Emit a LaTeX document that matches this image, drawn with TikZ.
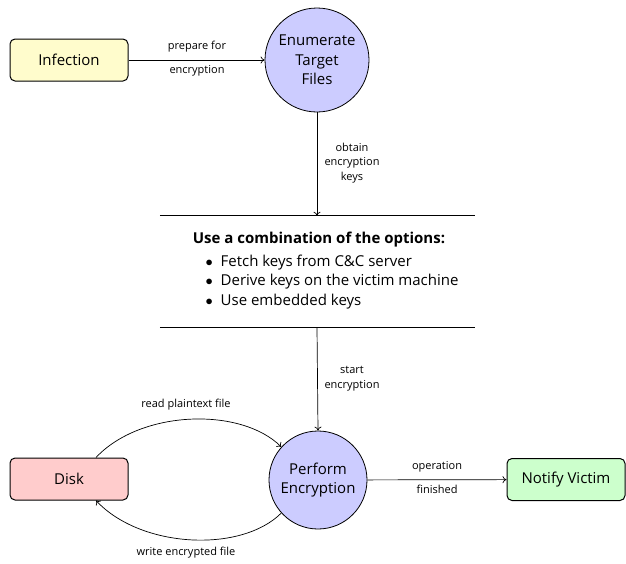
\documentclass[tikz,border=0pt]{standalone}
\usepackage{fontspec}
\setmainfont{Open Sans}
\usetikzlibrary{arrows.meta}
\begin{document}
\begin{tikzpicture}[x=1pt,y=-1pt,
  box/.style={draw, line width=1pt, rounded corners=5pt, minimum width=118pt, minimum height=42pt, font=\fontsize{15}{17}\selectfont},
  circ/.style={draw, circle, line width=0.8pt, fill=blue!20, align=center, inner sep=0pt, font=\fontsize{15}{19.5}\selectfont},
  conn/.style={-{To[length=4pt,width=7pt]}, line width=0.7pt},
  lbl/.style={font=\fontsize{11}{14.5}\selectfont, align=center, inner sep=1pt},
  rulel/.style={line width=1.3pt},
  txt/.style={font=\fontsize{15}{19.5}\selectfont, inner sep=0pt}
]
\useasboundingbox (0,0) rectangle (626,563);
\node[box, fill=yellow!20] (inf) at (69,60) {Infection};
\node[circ, minimum size=104pt] (enum) at (317,60) {Enumerate\\Target\\Files};
\node[minimum width=315pt, minimum height=111pt, inner sep=0pt] (opts) at (317.5,271.5) {};
\draw[rulel] (opts.north west) -- (opts.north east);
\draw[rulel] (opts.south west) -- (opts.south east);
\node[txt, font=\fontsize{15}{17}\bfseries] (head) at (319,240) {Use a combination of the options:};
\node[txt, anchor=west, align=left] (lst) at (205.5,282) {$\bullet$\ \ Fetch keys from C\&C server\\$\bullet$\ \ Derive keys on the victim machine\\$\bullet$\ \ Use embedded keys};
\node[circ, minimum size=98pt] (perf) at (318,480) {Perform\\Encryption};
\node[box, fill=red!20] (disk) at (69,479) {Disk};
\node[box, fill=green!20] (notif) at (566,479.5) {Notify Victim};
% connectors
\draw[conn] (inf) -- (enum);
\node[lbl] (l1) at (197,47) {prepare for};
\node[lbl] (l2) at (197,71) {encryption};
\draw[conn] (enum.south) -- (enum.south |- opts.north);
\node[lbl] (l3) at (352,163) {obtain\\encryption\\keys};
\draw[conn] (enum.south |- opts.south) -- (perf.north);
\node[lbl] (l4) at (352,378.5) {start\\encryption};
\draw[conn] (perf) -- (notif);
\node[lbl] (l5) at (437,467) {operation};
\node[lbl] (l6) at (437,489) {finished};
\draw[conn] ([xshift=27pt]disk.north) .. controls +(45,-48) and +(-40,-40) .. (perf.138);
\node[lbl] (l7) at (186,405) {read plaintext file};
\draw[conn] (perf.222) .. controls +(-40,40) and +(45,48) .. ([xshift=27pt]disk.south);
\node[lbl] (l8) at (186,553) {write encrypted file};
\end{tikzpicture}
\end{document}
